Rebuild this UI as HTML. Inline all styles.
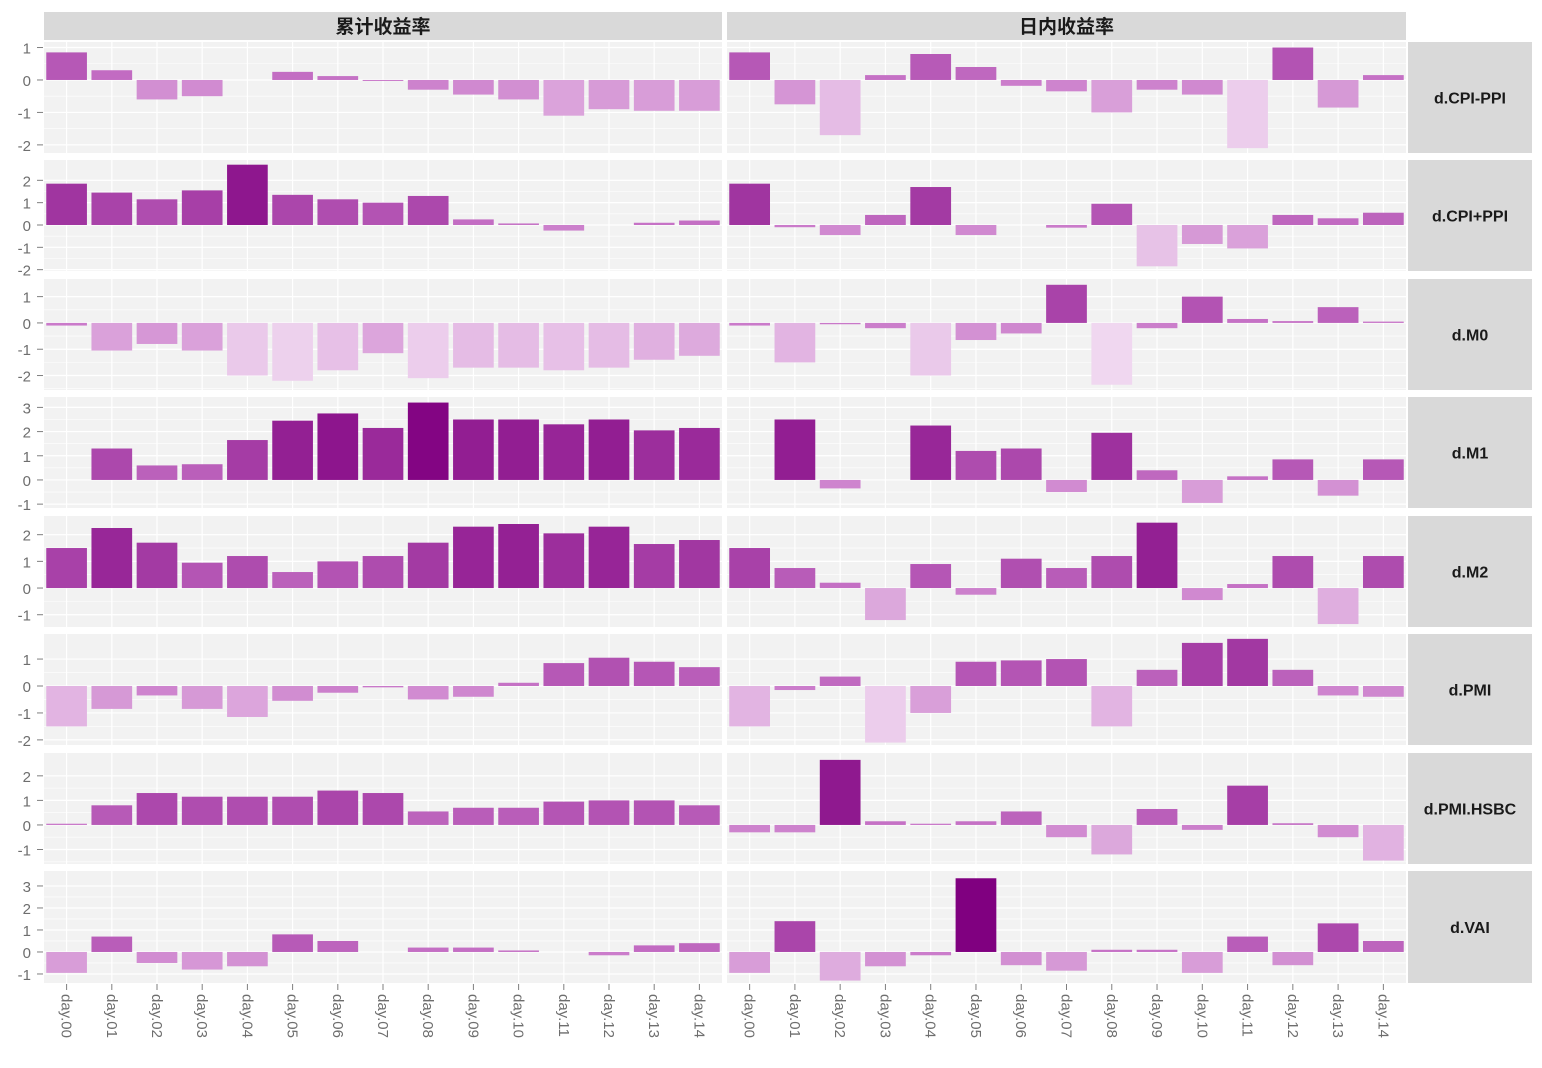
<!DOCTYPE html>
<html><head><meta charset="utf-8"><style>
body{margin:0;background:#fff;}
svg{display:block;font-family:"Liberation Sans","Noto Sans CJK SC",sans-serif;}
</style></head><body>
<svg id="chart" width="1542" height="1068"></svg>
<script>
const categories=["day.00","day.01","day.02","day.03","day.04","day.05","day.06","day.07","day.08","day.09","day.10","day.11","day.12","day.13","day.14"];
const colTitles=["累计收益率","日内收益率"];
const rowTitles=["d.CPI-PPI","d.CPI+PPI","d.M0","d.M1","d.M2","d.PMI","d.PMI.HSBC","d.VAI"];
const rowDomains=[[-2.25,1.17],[-2.06,2.91],[-2.55,1.67],[-1.16,3.43],[-1.46,2.70],[-2.19,1.93],[-1.59,2.93],[-1.41,3.68]];
const rowTicks=[[1,0,-1,-2],[2,1,0,-1,-2],[1,0,-1,-2],[3,2,1,0,-1],[2,1,0,-1],[1,0,-1,-2],[2,1,0,-1],[3,2,1,0,-1]];
const cumCPIminus=[0.85,0.3,-0.6,-0.5,0,0.25,0.12,-0.03,-0.3,-0.45,-0.6,-1.1,-0.9,-0.95,-0.95];
const dayCPIminus=[0.85,-0.75,-1.7,0.15,0.8,0.4,-0.18,-0.35,-1.0,-0.3,-0.45,-2.1,1.0,-0.85,0.15];
const cumCPIplus=[1.85,1.45,1.15,1.55,2.7,1.35,1.15,1.0,1.3,0.25,0.07,-0.25,0,0.1,0.2];
const dayCPIplus=[1.85,-0.1,-0.45,0.45,1.7,-0.45,0,-0.12,0.95,-1.85,-0.85,-1.05,0.45,0.3,0.55];
const cumM0=[-0.1,-1.05,-0.8,-1.05,-2.0,-2.2,-1.8,-1.15,-2.1,-1.7,-1.7,-1.8,-1.7,-1.4,-1.25];
const dayM0=[-0.1,-1.5,-0.05,-0.2,-2.0,-0.65,-0.4,1.45,-2.35,-0.2,1.0,0.15,0.07,0.6,0.05];
const cumM1=[0,1.3,0.6,0.65,1.65,2.45,2.75,2.15,3.2,2.5,2.5,2.3,2.5,2.05,2.15];
const dayM1=[0,2.5,-0.35,0,2.25,1.2,1.3,-0.5,1.95,0.4,-0.95,0.15,0.85,-0.65,0.85];
const cumM2=[1.5,2.25,1.7,0.95,1.2,0.6,1.0,1.2,1.7,2.3,2.4,2.05,2.3,1.65,1.8];
const dayM2=[1.5,0.75,0.2,-1.2,0.9,-0.25,1.1,0.75,1.2,2.45,-0.45,0.15,1.2,-1.35,1.2];
const cumPMI=[-1.5,-0.85,-0.35,-0.85,-1.15,-0.55,-0.25,-0.05,-0.5,-0.4,0.12,0.85,1.05,0.9,0.7];
const dayPMI=[-1.5,-0.15,0.35,-2.1,-1.0,0.9,0.95,1.0,-1.5,0.6,1.6,1.75,0.6,-0.35,-0.4];
const cumHSBC=[0.05,0.8,1.3,1.15,1.15,1.15,1.4,1.3,0.55,0.7,0.7,0.95,1.0,1.0,0.8];
const dayHSBC=[-0.3,-0.3,2.65,0.15,0.05,0.15,0.55,-0.5,-1.2,0.65,-0.2,1.6,0.07,-0.5,-1.45];
const cumVAI=[-0.95,0.7,-0.5,-0.8,-0.65,0.8,0.5,0,0.2,0.2,0.07,0,-0.15,0.3,0.4];
const dayVAI=[-0.95,1.4,-1.3,-0.65,-0.15,3.35,-0.6,-0.85,0.1,0.1,-0.95,0.7,-0.6,1.3,0.5];
const series=[[cumCPIminus,dayCPIminus],[cumCPIplus,dayCPIplus],[cumM0,dayM0],[cumM1,dayM1],[cumM2,dayM2],[cumPMI,dayPMI],[cumHSBC,dayHSBC],[cumVAI,dayVAI]];

const NS="http://www.w3.org/2000/svg";
const svg=document.getElementById('chart');
function mk(tag,attrs,parent){const e=document.createElementNS(NS,tag);for(const k in attrs)e.setAttribute(k,attrs[k]);(parent||svg).appendChild(e);return e;}
const colX=[[44,722],[727,1406]];
const rowY=[[42,153],[160,271],[279,390],[397,508],[516,627],[634,745],[753,864],[871,983]];
const vmin=-2.35,vmax=3.35;
function color(v){
  let c0,c1,t;
  if(v<0){c0=[240,215,240];c1=[200,118,200];t=(v-vmin)/(0-vmin);}
  else{c0=[200,118,200];c1=[128,0,128];t=v/vmax;}
  t=Math.max(0,Math.min(1,t));
  const c=c0.map((a,i)=>Math.round(a+(c1[i]-a)*t));
  return `rgb(${c[0]},${c[1]},${c[2]})`;
}
// column strips
colTitles.forEach((t,ci)=>{
  const [x0,x1]=colX[ci];
  const r=mk('rect',{x:x0,y:12,width:x1-x0,height:28,fill:'#d9d9d9'});
  
  
  const tx=mk('text',{x:(x0+x1)/2,y:33,'text-anchor':'middle','font-size':'19','font-weight':'bold',fill:'#1a1a1a'});
  tx.textContent=t;
  
  
});
rowTitles.forEach((rt,ri)=>{
  const [y0,y1]=rowY[ri];
  const [lo,hi]=rowDomains[ri];
  const ys=v=>y1-(v-lo)/(hi-lo)*(y1-y0);
  const s=mk('rect',{x:1408,y:y0,width:124,height:y1-y0,fill:'#d9d9d9'});
  
  
  const st=mk('text',{x:1470,y:(y0+y1)/2+6,'text-anchor':'middle','font-size':'16','font-weight':'bold',fill:'#1a1a1a'});
  st.textContent=rt;
  
  
  // y ticks
  rowTicks[ri].forEach(tv=>{
    const y=ys(tv);
    const tl=mk('text',{x:31,y:y+6,'text-anchor':'end','font-size':'15',fill:'#6e6e6e'});
    tl.textContent=tv<0?'-'+Math.abs(tv):String(tv);
    
    
    mk('line',{x1:37,x2:43,y1:y,y2:y,stroke:'#7f7f7f','stroke-width':1});
  });
  colX.forEach(([x0,x1],ci)=>{
    const g=mk('g',{});
    
    
    mk('rect',{x:x0,y:y0,width:x1-x0,height:y1-y0,fill:'#f2f2f2'},g);
    const bw=(x1-x0)/categories.length;
    const xs=i=>x0+bw*(i+0.5);
    // minor grid
    for(let k=0;k<rowTicks[ri].length;k++){
      const a=rowTicks[ri][k];
      [a, a-0.5].forEach((tv,j)=>{const y=ys(tv);if(y>y0&&y<y1)mk('line',{x1:x0,x2:x1,y1:y,y2:y,stroke:'#fff','stroke-width':j?0.6:1.2},g);});
    }
    categories.forEach((c,i)=>mk('line',{x1:xs(i),x2:xs(i),y1:y0,y2:y1,stroke:'#fff','stroke-width':1.2},g));
    series[ri][ci].forEach((v,i)=>{
      const ya=ys(Math.max(v,0)),yb=ys(Math.min(v,0));
      const b=mk('rect',{x:xs(i)-bw*0.45,y:ya,width:bw*0.9,height:Math.max(yb-ya,0),fill:color(v)},g);
      
      
    });
  });
});
// x axis labels
colX.forEach(([x0,x1],ci)=>{
  const bw=(x1-x0)/categories.length;
  categories.forEach((c,i)=>{
    const x=x0+bw*(i+0.5);
    mk('line',{x1:x,x2:x,y1:984,y2:990,stroke:'#7f7f7f','stroke-width':1});
    const t=mk('text',{x:x-5,y:994,'font-size':'15',fill:'#6e6e6e',transform:`rotate(90 ${x-5} 994)`});
    t.textContent=c;
    
    
  });
});
</script>
</body></html>
